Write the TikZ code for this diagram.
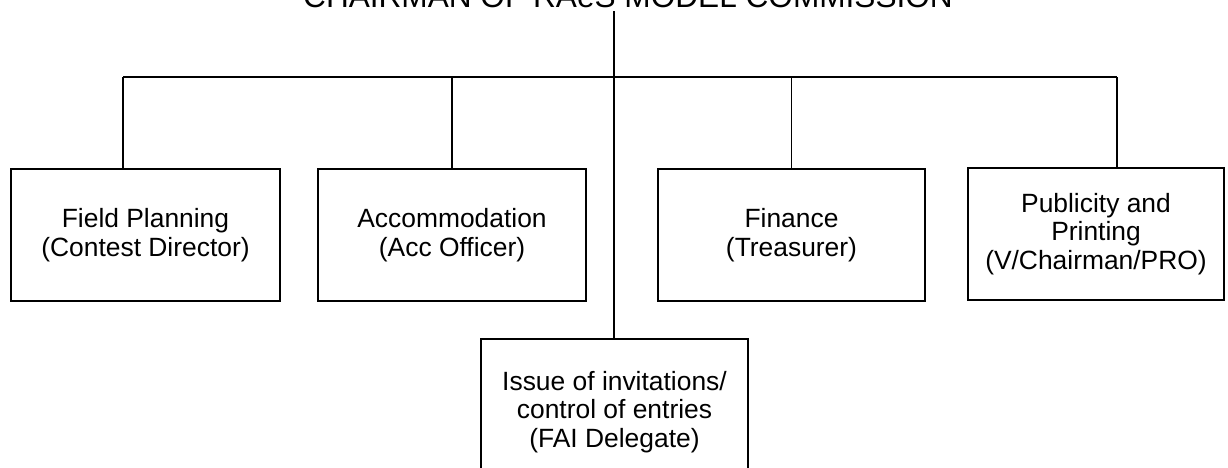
\documentclass[tikz,border=0pt]{standalone}
\usepackage{fontspec}
\setmainfont{Liberation Sans}
\tikzset{
	unit/.style={draw, line width=0.7pt, minimum height=66pt, inner sep=0pt,
			align=center, font=\fontsize{13.2}{14.2}\selectfont},
	heading/.style={inner sep=0pt, font=\fontsize{15.8}{18}\selectfont}
}
\begin{document}
\begin{tikzpicture}[x=0.5pt, y=-0.5pt, line width=0.7pt]
			\useasboundingbox (0,0) rectangle (1228,467);

			% Define the chairman
			\node[heading, anchor=base] (chair) at (628,7.5) {CHAIRMAN OF RAeS MODEL COMMISSION};

			% Draw the sub-committees
			\node[unit, minimum width=134.5pt] (field) at (145.5,235) {Field Planning\\(Contest Director)};
			\node[unit, minimum width=134pt] (accom) at (452,235) {Accommodation\\(Acc Officer)};
			\node[unit, minimum width=133.5pt] (finance) at (791.5,235) {Finance\\(Treasurer)};
			\node[unit, minimum width=128pt] (publicity) at (1096,234) {Publicity and\\Printing\\(V/Chairman/PRO)};
			\node[unit, minimum width=133.5pt, minimum height=73pt] (invite) at (614.5,412) {Issue of invitations/\\control of entries\\(FAI Delegate)};

			% Draw the connectors
			\coordinate (top) at (614,11);
			\coordinate (barL) at (123,77);
			\coordinate (barR) at (1117,77);
			\draw (top) -- (top |- invite.north);
			\draw (barL) -- (barR);
			\draw (barL) -- (barL |- field.north);
			\draw (accom.north) -- (accom.north |- barL);
			\draw (finance.north) -- (finance.north |- barL);
			\draw (barR) -- (barR |- publicity.north);
		\end{tikzpicture}
\end{document}
